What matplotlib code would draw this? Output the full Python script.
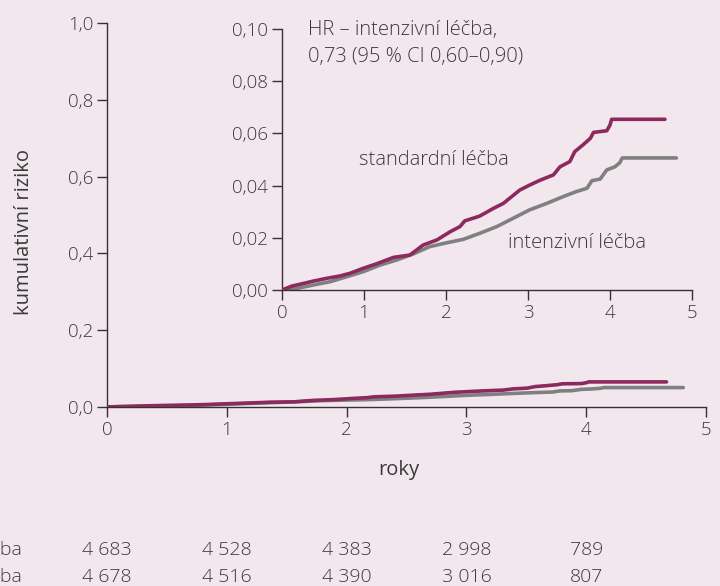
import matplotlib
matplotlib.use("Agg")
import matplotlib.pyplot as plt
from matplotlib.transforms import blended_transform_factory
from matplotlib.ticker import FuncFormatter

# ---- data ----
std_t = [0, 0.12, 0.22, 0.38, 0.55, 0.71, 0.83, 0.99, 1.15, 1.36, 1.56, 1.72, 1.89, 2.05, 2.17,
         2.23, 2.41, 2.58, 2.70, 2.90, 3.02, 3.15, 3.31, 3.39, 3.51, 3.57, 3.67, 3.76, 3.80,
         3.96, 4.00, 4.02, 4.67]
std_v = [0, 0.0015, 0.0022, 0.0034, 0.0045, 0.0054, 0.0064, 0.0083, 0.0100, 0.0125, 0.0134,
         0.0172, 0.0192, 0.0223, 0.0243, 0.0265, 0.0283, 0.0313, 0.0332, 0.0383, 0.0402, 0.0421,
         0.0441, 0.0472, 0.0492, 0.0530, 0.0556, 0.0581, 0.0604, 0.0610, 0.0632, 0.0654, 0.0654]
int_t = [0, 0.18, 0.38, 0.59, 0.79, 0.99, 1.20, 1.40, 1.60, 1.80, 2.01, 2.21, 2.41, 2.62, 2.82,
         3.02, 3.23, 3.43, 3.59, 3.72, 3.78, 3.88, 3.96, 4.06, 4.12, 4.15, 4.81]
int_v = [0, 0.0006, 0.0019, 0.0032, 0.0051, 0.0070, 0.0096, 0.0115, 0.0138, 0.0166, 0.0181,
         0.0194, 0.0217, 0.0243, 0.0275, 0.0307, 0.0332, 0.0358, 0.0377, 0.0390, 0.0419, 0.0425,
         0.0460, 0.0472, 0.0488, 0.0506, 0.0506]

risk_times = [0, 1, 2, 3, 4]
risk_std = ["4 683", "4 528", "4 383", "2 998", "789"]
risk_int = ["4 678", "4 516", "4 390", "3 016", "807"]
row_labels = ["standardní léčba", "intenzivní léčba"]

main_yticks = [0.0, 0.2, 0.4, 0.6, 0.8, 1.0]
inset_yticks = [0.0, 0.02, 0.04, 0.06, 0.08, 0.10]
xticks = [0, 1, 2, 3, 4, 5]

# ---- style ----
BG = "#F3E7EE"
C_STD = "#8C2A5D"
C_INT = "#808080"
TXT = "#3a3a3a"
SP = "#333333"
FS = 13.5
FA = 14.5
LW = 2.6
plt.rcParams["font.family"] = ["Open Sans", "DejaVu Sans"]
plt.rcParams["font.weight"] = "light"

fig = plt.figure(figsize=(7.2, 5.86), dpi=100, facecolor=BG)

def style(ax, dec):
    ax.set_facecolor(BG)
    ax.patch.set_alpha(0)
    for s in ["top", "right"]:
        ax.spines[s].set_visible(False)
    for s in ["left", "bottom"]:
        ax.spines[s].set_color(SP)
        ax.spines[s].set_linewidth(1.0)
    ax.tick_params(direction="out", length=7, width=1.0, color=SP, labelcolor=TXT,
                   labelsize=FS, pad=3)
    ax.yaxis.set_major_formatter(FuncFormatter(lambda v, p: f"{v:.{dec}f}".replace(".", ",")))

# main axes
ax = fig.add_axes([107/720, 1-407/586, 599/720, 384/586])
style(ax, 1)
ax.plot(int_t, int_v, color=C_INT, lw=LW, zorder=2, solid_capstyle="round")
ax.plot(std_t, std_v, color=C_STD, lw=LW, zorder=3, solid_capstyle="round")
ax.set_xlim(0, 5)
ax.set_ylim(0, 1.0)
ax.set_xticks(xticks)
ax.set_yticks(main_yticks)
ax.set_xlabel("roky", fontsize=FA, color=TXT)
ax.set_ylabel("kumulativní riziko", fontsize=FA, color=TXT)
ax.xaxis.set_label_coords(0.487, -(460 - 407) / 384)
ax.yaxis.set_label_coords((34 - 107) / 599, (407 - 232) / 384)

# inset
ai = fig.add_axes([282/720, 1-290/586, 410/720, 261/586])
style(ai, 2)
ai.plot(int_t, int_v, color=C_INT, lw=LW, zorder=2, solid_capstyle="round")
ai.plot(std_t, std_v, color=C_STD, lw=LW, zorder=3, solid_capstyle="round")
ai.set_xlim(0, 5)
ai.set_ylim(0, 0.10)
ai.set_xticks(xticks)
ai.set_yticks(inset_yticks)
ai.text(0.32, 0.0996, "HR – intenzivní léčba,", fontsize=FA, color=TXT, va="center", ha="left")
ai.text(0.32, 0.0893, "0,73 (95 % CI 0,60–0,90)", fontsize=FA, color=TXT, va="center", ha="left")
ai.text(0.94, 0.0498, "standardní léčba", fontsize=FA, color=TXT, va="center", ha="left")
ai.text(2.76, 0.0180, "intenzivní léčba", fontsize=FA, color=TXT, va="center", ha="left")

# number at risk table
tr = blended_transform_factory(ax.transData, fig.transFigure)
for ypix, lab, vals in [(550, row_labels[0], risk_std), (577, row_labels[1], risk_int)]:
    yf = 1 - ypix/586
    fig.text(22/720, yf, lab, fontsize=14, color=TXT, ha="right", va="center")
    for t, v in zip(risk_times, vals):
        ax.text(t, yf, v, transform=tr, fontsize=14, color=TXT, ha="center", va="center",
                clip_on=False)

fig.savefig("out.png", dpi=100, facecolor=BG)
